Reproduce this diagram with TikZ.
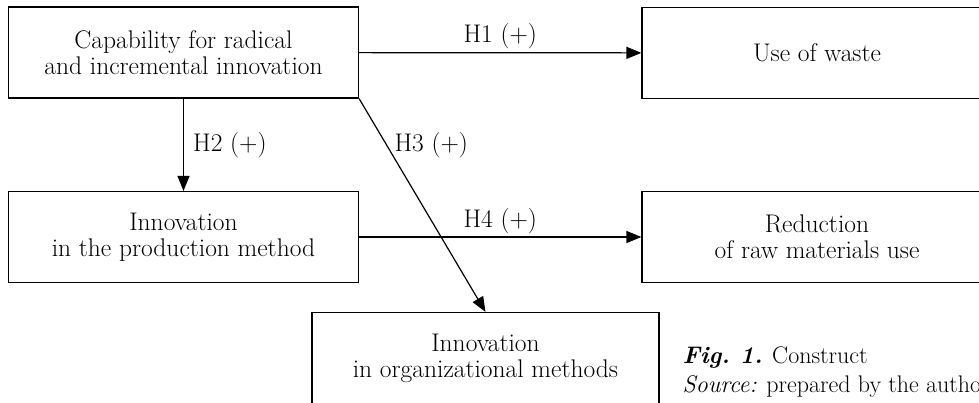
\documentclass[tikz,border=0pt]{standalone}
\usetikzlibrary{arrows.meta}
\begin{document}
\begin{tikzpicture}[x=1pt, y=-1pt, line width=1.2pt,
  box/.style={draw, minimum width=350pt, minimum height=91pt, inner sep=0pt, align=center, font=\fontsize{25.5}{26}\selectfont},
  hyp/.style={font=\fontsize{25.5}{26}\selectfont, inner sep=3pt},
  caption/.style={anchor=base west, inner sep=0pt, font=\fontsize{24}{25}\selectfont}]
\useasboundingbox (0,0) rectangle (979,402);
\clip (0,0) rectangle (979,402);
\node[box] (capab) at (183.5,52.5) {Capability for radical\\and incremental innovation};
\node[box] (waste) at (817,53) {Use of waste};
\node[box] (prod) at (183.5,237) {Innovation\\in the production method};
\node[box] (raw) at (817,237) {Reduction\\of raw materials use};
\node[box, minimum width=347pt] (org) at (485.5,358) {Innovation\\in organizational methods};
\node[caption] (fig) at (682,363) {\textbf{\textit{Fig.~1.}} Construct};
\node[caption] (src) at (682,392) {\textit{Source:} prepared by the author};
\path [-{Triangle[length=15pt,width=12pt]}, draw=black] (capab) edge node[hyp, above] {H1 (+)} (waste);
\path [-{Triangle[length=15pt,width=12pt]}, draw=black] (capab) edge node[hyp, right, xshift=6pt] {H2 (+)} (prod);
\draw [-{Triangle[length=15pt,width=12pt]}] (capab.south east) -- node[hyp, right, pos=0.22, xshift=4pt] {H3 (+)} (org.north);
\path [-{Triangle[length=15pt,width=12pt]}, draw=black] (prod) edge node[hyp, above] {H4 (+)} (raw);
\end{tikzpicture}
\end{document}
